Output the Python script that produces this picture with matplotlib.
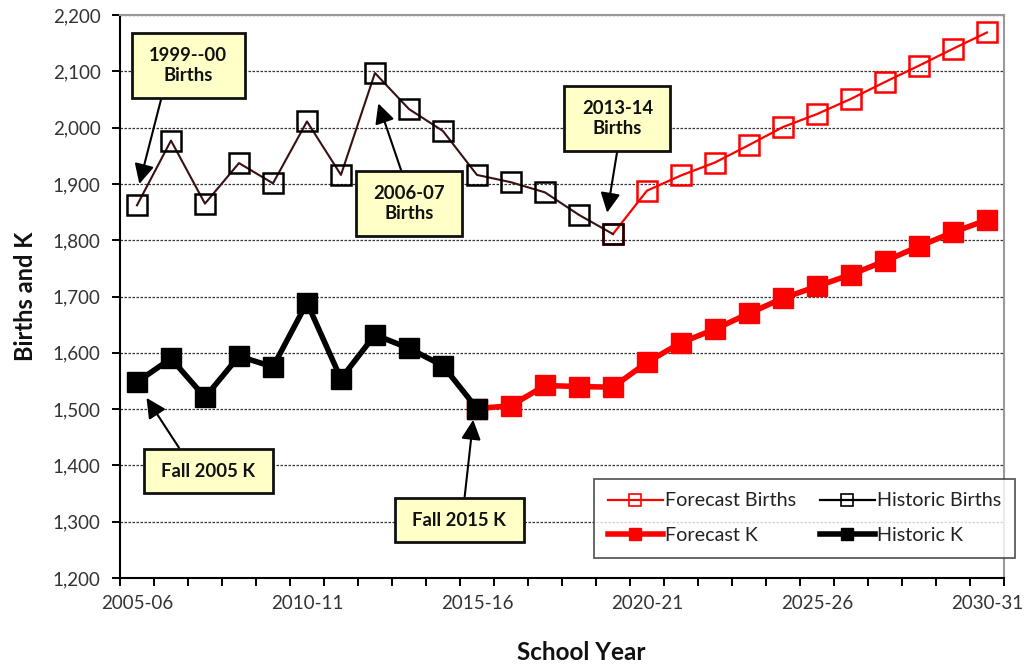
import matplotlib

matplotlib.use("Agg")
import matplotlib.pyplot as plt
import numpy as np
from matplotlib.lines import Line2D
from matplotlib.ticker import FuncFormatter

plt.rcParams["font.family"] = ["Lato", "DejaVu Sans"]

YEARS = [f"{y}-{str(y + 1)[-2:]}" for y in range(2005, 2031)]

hist_births = [1862, 1977, 1865, 1937, 1901, 2011, 1916, 2097, 2033, 1994,
               1916, 1903, 1885, 1845, 1811]
fcst_births = [1811, 1888, 1915, 1938, 1969, 2001, 2024, 2051, 2081, 2110,
               2140, 2169]
hist_k = [1548, 1590, 1521, 1594, 1575, 1689, 1554, 1632, 1608, 1577, 1501]
fcst_k = [1501, 1506, 1542, 1540, 1539, 1583, 1618, 1642, 1670, 1697, 1718,
          1739, 1763, 1789, 1814, 1836]

RED = "#ff0000"
BROWN = "#3a1010"
BOX = "#ffffc8"

fig = plt.figure(figsize=(10.29, 6.71), dpi=100, facecolor="white")
ax = fig.add_axes([0.1166, 0.1386, 0.859, 0.839])

x_hb = np.arange(len(hist_births))
x_fb = np.arange(len(hist_births) - 1, len(hist_births) - 1 + len(fcst_births))
x_hk = np.arange(len(hist_k))
x_fk = np.arange(len(hist_k) - 1, len(hist_k) - 1 + len(fcst_k))

ax.plot(x_fb, fcst_births, color=RED, lw=1.6, marker="s", ms=14,
        mfc="none", mec=RED, mew=1.8, zorder=3)
ax.plot(x_fk, fcst_k, color=RED, lw=4, marker="s", ms=14,
        mfc=RED, mec=RED, zorder=3)
ax.plot(x_hb, hist_births, color=BROWN, lw=1.5, marker="s", ms=14,
        mfc="none", mec="black", mew=1.8, zorder=4)
ax.plot(x_hk, hist_k, color="black", lw=4, marker="s", ms=14,
        mfc="black", mec="black", zorder=4)

ax.set_xlim(-0.5, len(YEARS) - 0.5)
ax.set_ylim(1200, 2200)
ax.set_yticks(np.arange(1200, 2201, 100))
ax.yaxis.set_major_formatter(FuncFormatter(lambda v, _: f"{v:,.0f}"))
label_idx = list(range(0, len(YEARS), 5))
ax.set_xticks(label_idx)
ax.set_xticklabels([YEARS[i] for i in label_idx])
ax.set_xticks(np.arange(-0.5, len(YEARS), 1), minor=True)
ax.tick_params(axis="x", which="major", length=0, pad=12, labelsize=13.5,
               colors="#333333")
ax.tick_params(axis="x", which="minor", length=6, width=1.4, direction="out")
ax.tick_params(axis="y", length=6, width=1.4, pad=8, labelsize=13.5,
               colors="#333333")
ax.tick_params(axis="both", which="both", color="black")

ax.yaxis.grid(True, linestyle=(0, (2, 1.2)), color="#333333", lw=0.9)
ax.set_axisbelow(True)
for side in ("left", "bottom"):
    ax.spines[side].set_color("black")
    ax.spines[side].set_linewidth(1.5)
for side in ("top", "right"):
    ax.spines[side].set_color("#9a9a9a")
    ax.spines[side].set_linewidth(1.5)

ax.set_ylabel("Births and K", fontsize=17, fontweight="bold", labelpad=11,
              color="#111111")
fig.text(581 / 1029, 1 - 653 / 671, "School Year", fontsize=17.5,
         fontweight="bold", ha="center", va="center", color="#111111")

notes = [
    ("1999--00\nBirths", (1.51, 2110), (0.07, 1900), (0.2, 0)),
    ("2006-07\nBirths", (8.0, 1865), (7.1, 2043), (0.46, 1)),
    ("2013-14\nBirths", (14.13, 2016), (13.83, 1849), (0.53, 0)),
    ("Fall 2005 K", (2.1, 1390), (0.28, 1520), (0.29, 1)),
    ("Fall 2015 K", (9.48, 1303), (9.89, 1481), (0.54, 1)),
]
for text, xytext, xy, rel in notes:
    ann = ax.annotate(
        text, xy=xy, xytext=xytext, ha="center", va="center",
        fontsize=13.3, fontweight="bold", color="#111111", linespacing=1.25,
        bbox=dict(boxstyle="square,pad=0.95", fc=BOX, ec="#111111", lw=2),
        arrowprops=dict(arrowstyle="-|>,head_length=0.9,head_width=0.45",
                        color="black", lw=1.5, relpos=rel, shrinkA=0, shrinkB=0),
        zorder=6,
    )
    ann.get_bbox_patch().set_mutation_aspect(0.78)

handles = [
    Line2D([], [], color=RED, lw=1.6, marker="s", ms=8, mfc="none", mec=RED,
           mew=1.2),
    Line2D([], [], color=RED, lw=4, marker="s", ms=9, mfc=RED, mec=RED),
    Line2D([], [], color="black", lw=1.6, marker="s", ms=8, mfc="none",
           mec="black", mew=1.2),
    Line2D([], [], color="black", lw=4, marker="s", ms=9, mfc="black",
           mec="black"),
]
labels = ["Forecast Births", "Forecast K", "Historic Births", "Historic K"]
leg = ax.legend(handles, labels, ncol=2, loc="lower right",
                bbox_to_anchor=(1015 / 1029, 1 - 558 / 671),
                bbox_transform=fig.transFigure, borderaxespad=0,
                fontsize=14.2, frameon=True,
                fancybox=False, edgecolor="#333333", handlelength=2.8,
                columnspacing=1.2, handletextpad=0.1, labelspacing=0.9,
                borderpad=0.7, labelcolor="#222222")
leg.get_frame().set_linewidth(1.3)
leg.set_zorder(7)

fig.savefig("out.png", dpi=100, facecolor="white")
